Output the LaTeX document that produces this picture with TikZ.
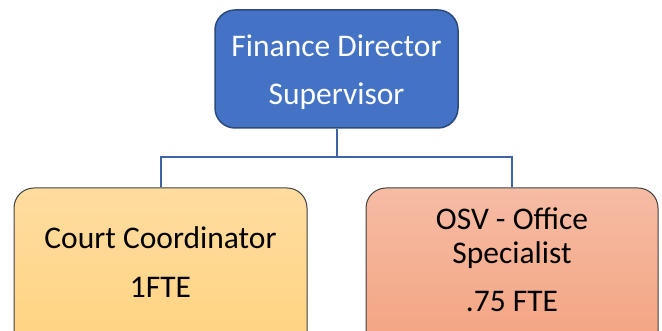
\documentclass[tikz,border=0pt]{standalone}
\usepackage{fontspec}
\setmainfont{Carlito}
\begin{document}
\begin{tikzpicture}[x=1pt,y=1pt,
  box/.style={draw=black!75, line width=1pt, rounded corners=20pt, inner sep=0pt},
  boxtext/.style={align=center, font=\fontsize{31.5}{34}\selectfont, inner sep=0pt},
  link/.style={draw=linkblue, line width=2pt}]
\definecolor{dirblue}{HTML}{4472C4}
\definecolor{dirborder}{HTML}{2C4A7C}
\definecolor{linkblue}{HTML}{3F64A6}
\definecolor{yeltop}{HTML}{FFDDA0}
\definecolor{yelbot}{HTML}{FFD27E}
\definecolor{saltop}{HTML}{F5BCA4}
\definecolor{salbot}{HTML}{F4A27F}
\useasboundingbox (0,0) rectangle (662,331);
\clip (0,0) rectangle (662,331);

% director box
\node[box, draw=dirborder, line width=1.5pt, fill=dirblue, minimum width=243pt, minimum height=118pt]
  (dir) at (336.5,262) {};
\node[boxtext, text=white] (dirtxt) at (336.5,259) {Finance Director\\[14pt]Supervisor};

% staff boxes
\node[box, top color=yeltop, bottom color=yelbot, minimum width=293pt, minimum height=170pt]
  (court) at (160.5,58) {};
\node[boxtext] (courttxt) at (160.5,69) {Court Coordinator\\[15pt]1FTE};

\node[box, top color=saltop, bottom color=salbot, minimum width=292pt, minimum height=170pt]
  (osv) at (512,58) {};
\node[boxtext] (osvtxt) at (512,71) {OSV - Office\\Specialist\\[14pt].75 FTE};

% reporting lines
\coordinate (bus) at (336.5,174);
\draw[link] (dir.south) -- (dir.south |- bus);
\draw[link] (court.north) |- (osv.north |- bus) -- (osv.north);
\end{tikzpicture}
\end{document}
